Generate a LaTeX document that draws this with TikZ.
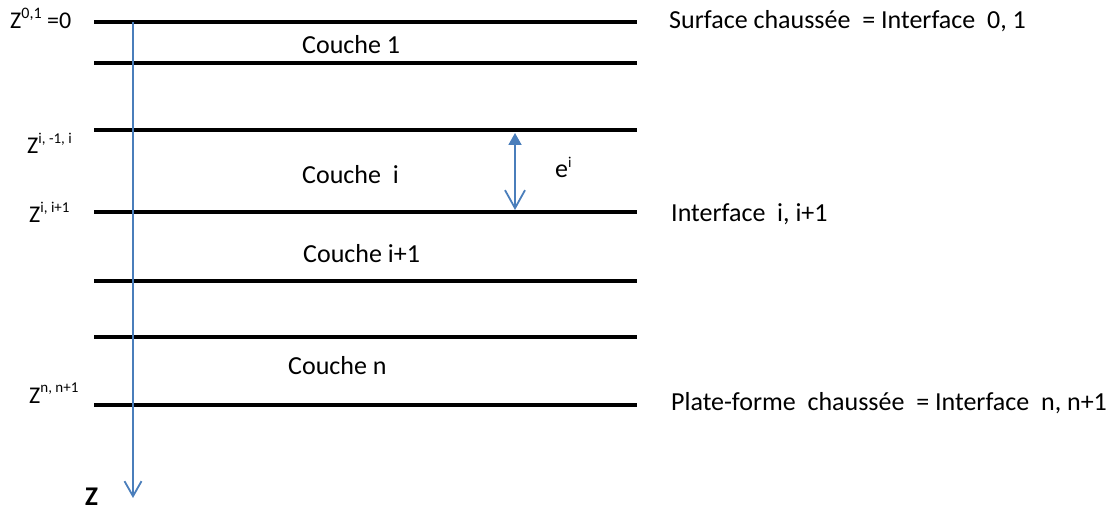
\documentclass[tikz,border=0pt]{standalone}
\usepackage{fontspec}
\setmainfont{Carlito}
\usetikzlibrary{arrows.meta}
\definecolor{axisblue}{RGB}{74,126,187}
% raised index set in a smaller size
\newcommand{\expo}[2][15]{\raisebox{0.42em}{\fontsize{#1}{#1}\selectfont #2}}

\begin{document}
\begin{tikzpicture}[x=1pt,y=-1pt,
  layer/.style={line width=4pt, line cap=butt},
  axis/.style={draw=axisblue, line width=1.8pt},
  txt/.style={inner sep=0pt, anchor=base west, font=\fontsize{26}{31}\selectfont},
  ztxt/.style={inner sep=0pt, anchor=base west, font=\fontsize{24}{29}\selectfont},
]
\useasboundingbox (0,0) rectangle (1116,510);

% interfaces between the layers
\foreach \y in {22,63,130,212,281,337,405}
  \draw[layer] (94,\y) -- (637,\y);

% depth axis
\coordinate (ztop) at (133,22);
\coordinate (zbot) at (133,498);
\draw[axis, -{Straight Barb[length=15pt,width=17pt,line width=1.8pt]}] (ztop) -- (zbot);

% thickness of layer i
\coordinate (etop) at (515,133);
\coordinate (ebot) at (515,210);
\draw[axis, {Triangle[length=12pt,width=13pt]}-{Straight Barb[length=18pt,width=20pt,line width=1.8pt]}] (etop) -- (ebot);
\node[txt] (e) at (555,178) {e\expo{i}};

% layer names
\node[txt] (c1) at (302,54) {Couche 1};
\node[txt] (ci) at (302,184) {Couche\ \ i};
\node[txt] (cip) at (303,263) {Couche i+1};
\node[txt] (cn) at (288,374) {Couche n};

% depths of the interfaces
\node[ztxt] (z0) at (10,29) {Z\expo[16]{0,1} =0};
\node[ztxt] (zi) at (27,154) {Z\expo{i, -1, i}};
\node[ztxt] (zii) at (29,223) {Z\expo{i, i+1}};
\node[ztxt] (zn) at (29,403) {Z\expo{n, n+1}};
\node[txt, font=\fontsize{27}{32}\selectfont\bfseries] (z) at (85,505) {Z};

% names of the interfaces
\node[txt] (s) at (669,29) {Surface chaussée\ \ = Interface\ \ 0, 1};
\node[txt] (ii) at (671,222) {Interface\ \ i, i+1};
\node[txt] (p) at (671,410) {Plate-forme\ \ chaussée\ \ = Interface\ \ n, n+1};
\end{tikzpicture}
\end{document}
